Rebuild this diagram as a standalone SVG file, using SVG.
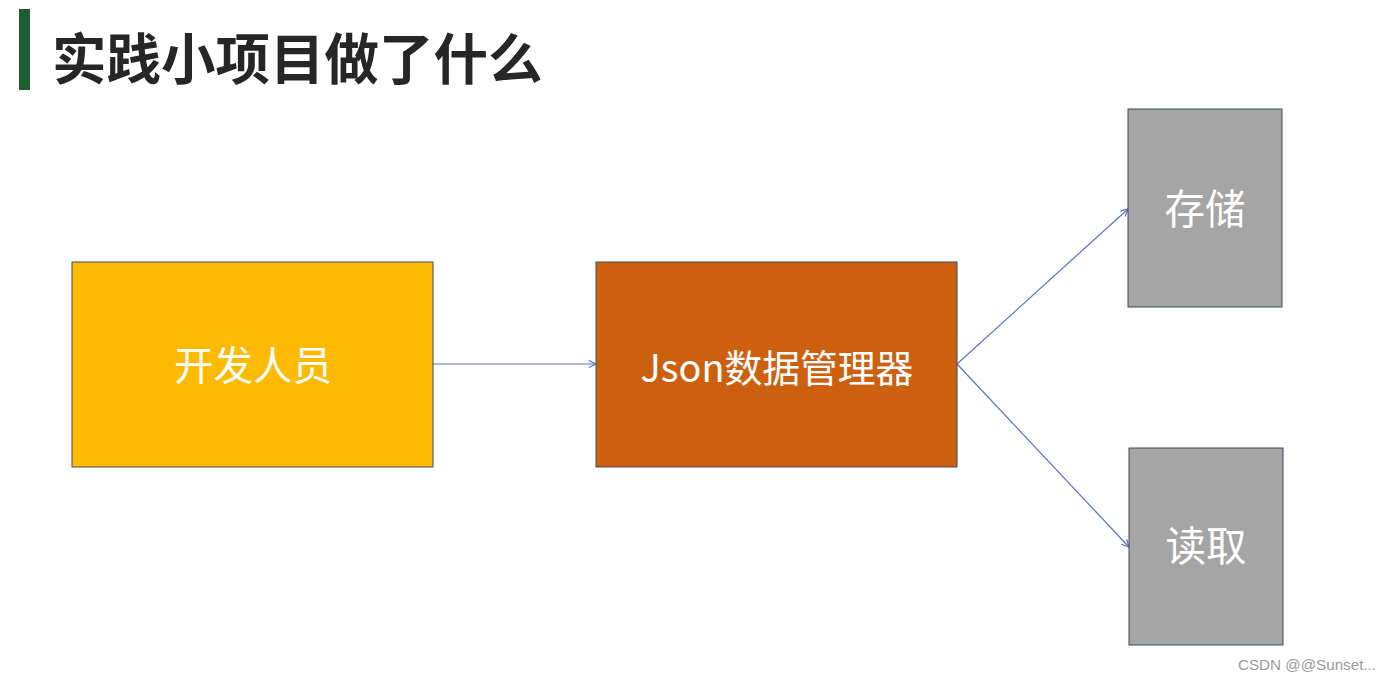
<svg xmlns="http://www.w3.org/2000/svg" width="1390" height="680" viewBox="0 0 1390 680">
<style>
.box{stroke:#3f4b5e;stroke-width:1}
.lbl{font-family:"Noto Sans CJK SC","Noto Sans",sans-serif;fill:#ffffff;text-anchor:middle;dominant-baseline:central}
.conn{stroke:#5a73b8;stroke-width:1.2;fill:none;marker-end:url(#arr)}
</style>
<defs>
<marker id="arr" viewBox="0 0 10 10" refX="9" refY="5" markerWidth="9" markerHeight="9" markerUnits="userSpaceOnUse" orient="auto">
<path d="M1,1 L9,5 L1,9" fill="none" stroke="#5a73b8" stroke-width="1.3"/>
</marker>
</defs>
<rect width="1390" height="680" fill="#ffffff"/>
<g id="title">
<rect x="19" y="9" width="11" height="81" fill="#1e5e30"/>
<text x="52" y="79" font-family="'Noto Sans CJK SC',sans-serif" font-weight="bold" font-size="54.5" fill="#262626">实践小项目做了什么</text>
</g>
<g id="connectors">
<line class="conn" x1="433" y1="364" x2="596" y2="364"/>
<line class="conn" x1="957" y1="364" x2="1128" y2="209"/>
<line class="conn" x1="957" y1="364" x2="1129" y2="547"/>
</g>
<g id="developer">
<rect class="box" x="72" y="262" width="361" height="205" fill="#fdba00"/>
<text class="lbl" x="253" y="362" font-size="39.5">开发人员</text>
</g>
<g id="json-manager">
<rect class="box" x="596" y="262" width="361" height="205" fill="#cd600f"/>
<text class="lbl" x="777" y="365" font-size="37.8">Json数据管理器</text>
</g>
<g id="store">
<rect class="box" x="1128" y="109" width="154" height="198" fill="#a5a5a5"/>
<text class="lbl" x="1205" y="206" font-size="40.5">存储</text>
</g>
<g id="read">
<rect class="box" x="1129" y="448" width="154" height="197" fill="#a5a5a5"/>
<text class="lbl" x="1206" y="543" font-size="40.5">读取</text>
</g>
<text x="1238" y="670" font-family="'Liberation Sans',sans-serif" font-size="15.2" fill="#9a9a9a">CSDN @@Sunset...</text>
</svg>
